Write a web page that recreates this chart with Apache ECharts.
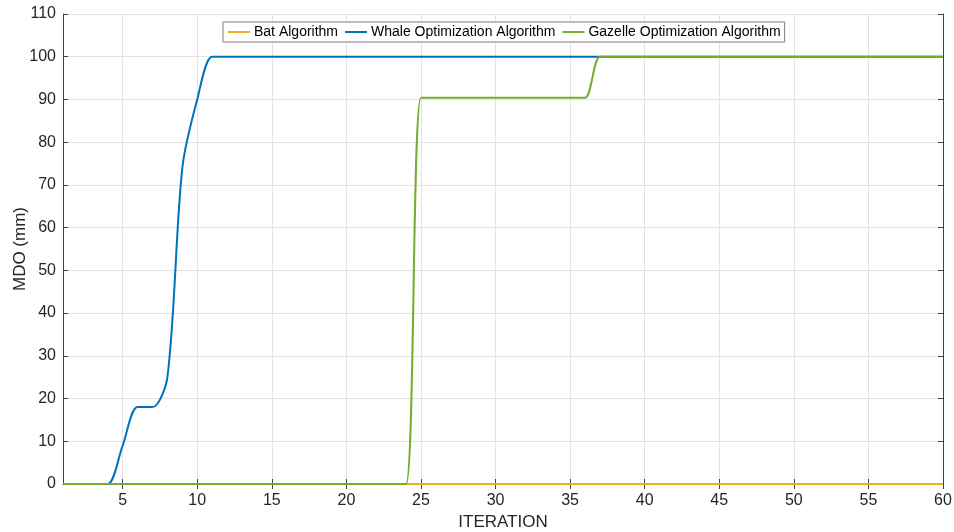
<!DOCTYPE html>
<html>
<head>
<meta charset="utf-8">
<script src="https://cdn.jsdelivr.net/npm/echarts@6/dist/echarts.min.js"></script>
<style>
html,body{margin:0;padding:0;background:#fff;}
#chart{width:954px;height:532px;}
</style>
</head>
<body>
<div id="chart"></div>
<script>
// Iterations 1..60
const iterations = [];
for (let i = 1; i <= 60; i++) iterations.push(i);

const xTicks = [5,10,15,20,25,30,35,40,45,50,55,60];

const batValues = [
  0,0,0,0,0,0,0,0,0,0,
  0,0,0,0,0,0,0,0,0,0,
  0,0,0,0,0,0,0,0,0,0,
  0,0,0,0,0,0,0,0,0,0,
  0,0,0,0,0,0,0,0,0,0,
  0,0,0,0,0,0,0,0,0,0
];
const whaleValues = [
  0,0,0,0,9,18,18,25,74,90,
  100,100,100,100,100,100,100,100,100,100,
  100,100,100,100,100,100,100,100,100,100,
  100,100,100,100,100,100,100,100,100,100,
  100,100,100,100,100,100,100,100,100,100,
  100,100,100,100,100,100,100,100,100,100
];
const gazelleValues = [
  0,0,0,0,0,0,0,0,0,0,
  0,0,0,0,0,0,0,0,0,0,
  0,0,0,0,90.4,90.4,90.4,90.4,90.4,90.4,
  90.4,90.4,90.4,90.4,90.4,90.4,100,100,100,100,
  100,100,100,100,100,100,100,100,100,100,
  100,100,100,100,100,100,100,100,100,100
];

const seriesNames = ['Bat Algorithm','Whale Optimization Algorithm','Gazelle Optimization Algorithm'];
const seriesColors = ['#EDB120','#0072BD','#77AC30'];
const seriesData = [batValues, whaleValues, gazelleValues];

const axisColor = '#404040';
const textColor = '#262626';
const gridColor = '#e3e3e3';
const font = '"Liberation Sans", Arial, Helvetica, sans-serif';

const chart = echarts.init(document.getElementById('chart'), null, {renderer:'canvas'});
chart.setOption({
  animation: false,
  backgroundColor: '#fff',
  grid: {left: 63, right: 11, top: 14, bottom: 48, containLabel: false, outerBoundsMode: 'none'},
  legend: {
    left: 223, top: 22,
    data: seriesNames,
    orient: 'horizontal',
    itemWidth: 22, itemHeight: 2, itemGap: 6,
    padding: [3, 4, 3, 4],
    borderColor: '#7f7f7f', borderWidth: 1,
    backgroundColor: '#fff',
    textStyle: {fontSize: 14, color: '#000', fontFamily: font, padding: [0,0,0,-1]}
  },
  xAxis: [{
    type: 'value', min: 1, max: 60,
    name: 'ITERATION', nameLocation: 'middle', nameGap: 28,
    nameTextStyle: {fontSize: 17, color: textColor, fontFamily: font},
    axisLine: {show: true, lineStyle: {color: axisColor, width: 1}},
    axisTick: {show: true, inside: true, length: 5, customValues: xTicks, lineStyle: {color: axisColor}},
    axisLabel: {customValues: xTicks, fontSize: 16, color: textColor, fontFamily: font, margin: 9},
    splitLine: {show: true, lineStyle: {color: gridColor, width: 1}}
  }, {
    type: 'value', min: 1, max: 60, position: 'top',
    axisLine: {show: true, lineStyle: {color: axisColor, width: 1}},
    axisTick: {show: true, inside: true, length: 5, customValues: xTicks, lineStyle: {color: axisColor}},
    axisLabel: {show: false, customValues: xTicks},
    splitLine: {show: false}
  }],
  yAxis: [{
    type: 'value', min: 0, max: 110, interval: 10,
    name: 'MDO (mm)', nameLocation: 'middle', nameGap: 43, nameMoveOverlap: false,
    nameTextStyle: {fontSize: 17, color: textColor, fontFamily: font, verticalAlign: 'middle'},
    axisLine: {show: true, lineStyle: {color: axisColor, width: 1}},
    axisTick: {show: true, inside: true, length: 5, lineStyle: {color: axisColor}},
    axisLabel: {fontSize: 16, color: textColor, fontFamily: font, margin: 7},
    splitLine: {show: true, lineStyle: {color: gridColor, width: 1}}
  }, {
    type: 'value', min: 0, max: 110, interval: 10, position: 'right',
    axisLine: {show: true, lineStyle: {color: axisColor, width: 1}},
    axisTick: {show: true, inside: true, length: 5, lineStyle: {color: axisColor}},
    axisLabel: {show: false},
    splitLine: {show: false}
  }],
  series: seriesNames.map((name, k) => ({
    name: name,
    type: 'line',
    xAxisIndex: 0, yAxisIndex: 0,
    data: iterations.map((it, i) => [it, seriesData[k][i]]),
    showSymbol: false, symbol: 'none',
    smooth: 0.3,
    lineStyle: {color: seriesColors[k], width: 2},
    itemStyle: {color: seriesColors[k]},
    z: 2 + k
  }))
});
</script>
</body>
</html>
